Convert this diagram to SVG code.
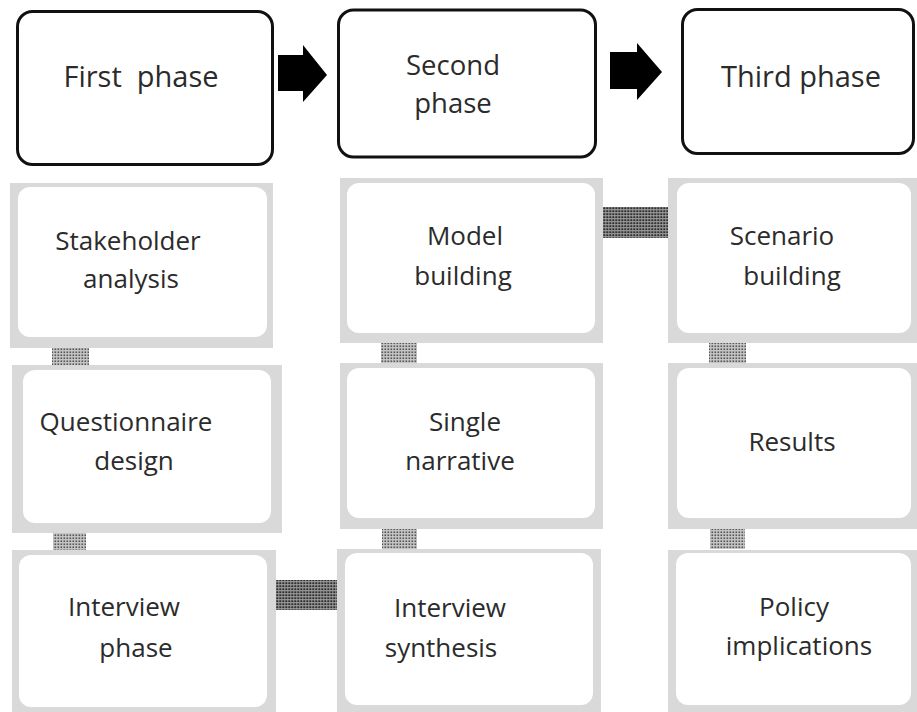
<svg xmlns="http://www.w3.org/2000/svg" width="917" height="712" viewBox="0 0 917 712">
<style>
.phase{fill:#fff;stroke:#111;stroke-width:3}
.frame{fill:#d9d9d9}
.inner{fill:#fff}
.t{font-family:"Open Sans","DejaVu Sans",sans-serif;fill:#2b2b2b;text-anchor:middle}
.tp{font-size:29px}
.tp2{font-size:27.5px}
.tb{font-size:26px}
.arrow{fill:#000}
.vlink{fill:url(#dotsLight)}
.hlink{fill:url(#dotsDark)}
</style>
<defs>
<pattern id="dotsLight" width="3" height="3" patternUnits="userSpaceOnUse">
<rect width="3" height="3" fill="#c4c4c4"/>
<rect x="0.5" y="0.5" width="1.6" height="1.4" fill="#4a4a4a"/>
</pattern>
<pattern id="dotsDark" width="3" height="3" patternUnits="userSpaceOnUse">
<rect width="3" height="3" fill="#9a9a9a"/>
<rect x="0.3" y="0.3" width="2" height="1.8" fill="#2e2e2e"/>
</pattern>
</defs>
<rect width="917" height="712" fill="#fff"/>

<g id="connectors">
<polygon class="arrow" points="278,55 303,55 303,45 327,75 303,102 303,91 278,91"/>
<polygon class="arrow" points="610,52 637,52 637,43 662,72 637,100 637,89 610,89"/>
<rect class="vlink" x="52" y="348" width="37" height="17"/>
<rect class="vlink" x="53" y="533" width="33" height="17"/>
<rect class="vlink" x="381" y="343" width="36" height="20"/>
<rect class="vlink" x="382" y="529" width="35" height="20"/>
<rect class="vlink" x="709" y="343" width="37" height="20"/>
<rect class="vlink" x="710" y="529" width="35" height="20"/>
<rect class="hlink" x="603" y="207" width="65" height="31"/>
<rect class="hlink" x="276" y="580" width="61" height="30"/>
</g>

<g id="first-phase">
<rect class="phase" x="17.5" y="11.5" width="255" height="153" rx="15"/>
<text class="t tp" x="141" y="87" xml:space="preserve">First  phase</text>
</g>
<g id="second-phase">
<rect class="phase" x="338.5" y="10" width="257" height="147" rx="15"/>
<text class="t tp2" x="453" y="75">Second</text>
<text class="t tp2" x="453" y="113">phase</text>
</g>
<g id="third-phase">
<rect class="phase" x="682.5" y="9.5" width="231" height="144" rx="15"/>
<text class="t tp" x="801" y="87">Third phase</text>
</g>

<g id="stakeholder-analysis">
<rect class="frame" x="10" y="183" width="263" height="165"/>
<rect class="inner" x="18" y="187" width="249" height="150" rx="12"/>
<text class="t tb" x="128" y="250">Stakeholder</text>
<text class="t tb" x="131" y="288">analysis</text>
</g>
<g id="questionnaire-design">
<rect class="frame" x="12" y="365" width="270" height="168"/>
<rect class="inner" x="23" y="370" width="248" height="153" rx="12"/>
<text class="t tb" x="126" y="431">Questionnaire</text>
<text class="t tb" x="134" y="470">design</text>
</g>
<g id="interview-phase">
<rect class="frame" x="12" y="550" width="264" height="162"/>
<rect class="inner" x="19" y="555" width="248" height="152" rx="12"/>
<text class="t tb" x="124" y="616">Interview</text>
<text class="t tb" x="136" y="657">phase</text>
</g>

<g id="model-building">
<rect class="frame" x="340" y="178" width="263" height="165"/>
<rect class="inner" x="347" y="183" width="248" height="150" rx="12"/>
<text class="t tb" x="465" y="245">Model</text>
<text class="t tb" x="463" y="285">building</text>
</g>
<g id="single-narrative">
<rect class="frame" x="340" y="363" width="263" height="166"/>
<rect class="inner" x="347" y="368" width="248" height="150" rx="12"/>
<text class="t tb" x="465" y="431">Single</text>
<text class="t tb" x="460" y="470">narrative</text>
</g>
<g id="interview-synthesis">
<rect class="frame" x="337" y="549" width="264" height="163"/>
<rect class="inner" x="345" y="553" width="248" height="152" rx="12"/>
<text class="t tb" x="450" y="617">Interview</text>
<text class="t tb" x="441" y="657">synthesis</text>
</g>

<g id="scenario-building">
<rect class="frame" x="668" y="178" width="249" height="165"/>
<rect class="inner" x="677" y="183" width="234" height="150" rx="12"/>
<text class="t tb" x="782" y="245">Scenario</text>
<text class="t tb" x="792" y="285">building</text>
</g>
<g id="results">
<rect class="frame" x="668" y="363" width="249" height="166"/>
<rect class="inner" x="677" y="368" width="234" height="150" rx="12"/>
<text class="t tb" x="792" y="451">Results</text>
</g>
<g id="policy-implications">
<rect class="frame" x="668" y="550" width="249" height="162"/>
<rect class="inner" x="676" y="553" width="235" height="152" rx="12"/>
<text class="t tb" x="794" y="616">Policy</text>
<text class="t tb" x="799" y="655">implications</text>
</g>
</svg>
